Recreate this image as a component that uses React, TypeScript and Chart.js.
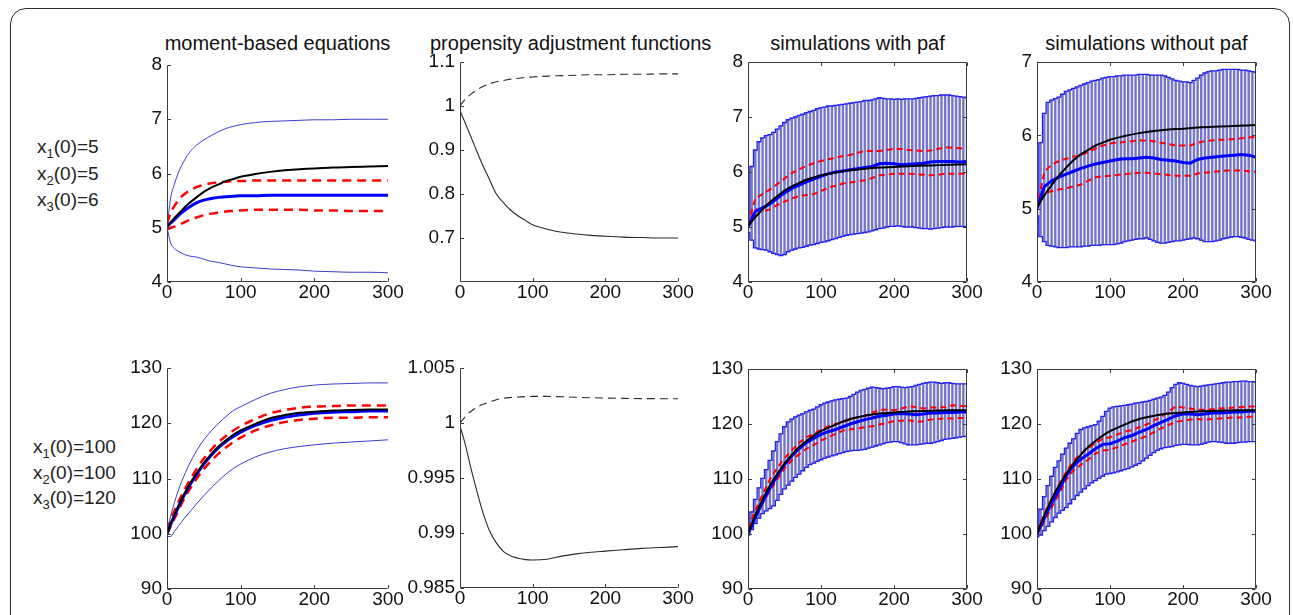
import React, { useEffect, useRef } from 'react';
import { Chart, registerables } from 'chart.js';

Chart.register(...registerables);

// ---------------- data ----------------
const X_TICKS = [0, 100, 200, 300];
const TITLES = ['moment-based equations', 'propensity adjustment functions', 'simulations with paf', 'simulations without paf'];
const ROW1_LABELS = [['1', '5'], ['2', '5'], ['3', '6']];
const ROW2_LABELS = [['1', '100'], ['2', '100'], ['3', '120']];

const Y_TICKS_R1_MOM = [4, 5, 6, 7, 8];
const Y_TICKS_R1_PAF = [0.7, 0.8, 0.9, 1, 1.1];
const Y_TICKS_R1_SIM = [4, 5, 6, 7, 8];
const Y_TICKS_R1_NOPAF = [4, 5, 6, 7];
const Y_TICKS_R2 = [90, 100, 110, 120, 130];
const Y_TICKS_R2_PAF = [0.985, 0.99, 0.995, 1, 1.005];

const T_ODE = [0, 5, 10, 15, 20, 30, 40, 50, 60, 70, 80, 90, 100, 120, 140, 160, 180, 200, 225, 250, 275, 300];

// row 1, moment-based equations
const R1_MOM_BLACK = [5.02, 5.1, 5.18, 5.25, 5.32, 5.45, 5.56, 5.66, 5.74, 5.8, 5.86, 5.9, 5.94, 5.99, 6.03, 6.06, 6.08, 6.09, 6.11, 6.12, 6.13, 6.14];
const R1_MOM_BLUE_MEAN = [5.02, 5.09, 5.15, 5.22, 5.28, 5.38, 5.46, 5.51, 5.54, 5.56, 5.57, 5.58, 5.59, 5.59, 5.6, 5.6, 5.6, 5.6, 5.6, 5.6, 5.6, 5.6];
const R1_MOM_BLUE_UP = [5.0, 5.55, 5.8, 6.0, 6.15, 6.38, 6.52, 6.62, 6.7, 6.77, 6.83, 6.87, 6.9, 6.94, 6.96, 6.97, 6.98, 6.99, 6.99, 7.0, 7.0, 7.0];
const R1_MOM_BLUE_LO = [5.0, 4.72, 4.62, 4.57, 4.53, 4.48, 4.46, 4.42, 4.38, 4.36, 4.33, 4.3, 4.28, 4.26, 4.24, 4.23, 4.22, 4.2, 4.19, 4.18, 4.18, 4.17];
const R1_MOM_RED_UP = [5.08, 5.28, 5.4, 5.5, 5.58, 5.68, 5.75, 5.79, 5.82, 5.84, 5.85, 5.86, 5.86, 5.87, 5.87, 5.87, 5.87, 5.87, 5.87, 5.87, 5.87, 5.87];
const R1_MOM_RED_LO = [4.97, 5.0, 5.02, 5.05, 5.08, 5.14, 5.19, 5.23, 5.26, 5.28, 5.3, 5.31, 5.32, 5.33, 5.33, 5.33, 5.33, 5.32, 5.32, 5.31, 5.31, 5.31];

// row 1, propensity adjustment functions
const R1_PAF_DASHED = [1.0, 1.011, 1.02, 1.027, 1.033, 1.043, 1.05, 1.055, 1.058, 1.061, 1.063, 1.065, 1.066, 1.068, 1.069, 1.07, 1.071, 1.071, 1.072, 1.072, 1.073, 1.073];
const R1_PAF_SOLID = [0.99, 0.97, 0.95, 0.93, 0.91, 0.87, 0.835, 0.8, 0.78, 0.763, 0.75, 0.74, 0.73, 0.72, 0.713, 0.709, 0.706, 0.704, 0.702, 0.701, 0.7, 0.7];

// row 2, moment-based equations
const R2_MOM_BLACK = [100.0, 101.8, 103.4, 104.9, 106.3, 108.8, 110.9, 112.8, 114.4, 115.8, 116.9, 117.9, 118.7, 119.9, 120.9, 121.5, 121.9, 122.1, 122.3, 122.4, 122.5, 122.5];
const R2_MOM_BLUE_MEAN = [100.0, 101.7, 103.2, 104.7, 106.1, 108.6, 110.7, 112.6, 114.2, 115.6, 116.7, 117.6, 118.4, 119.6, 120.5, 121.1, 121.5, 121.8, 122.0, 122.1, 122.2, 122.2];
const R2_MOM_BLUE_UP = [100.5, 103.2, 105.6, 107.7, 109.5, 112.5, 115.0, 117.0, 118.6, 120.0, 121.2, 122.3, 123.0, 124.3, 125.4, 126.1, 126.6, 126.9, 127.1, 127.2, 127.3, 127.3];
const R2_MOM_BLUE_LO = [99.5, 99.5, 100.4, 101.3, 102.2, 103.8, 105.4, 106.9, 108.3, 109.6, 110.8, 111.8, 112.6, 113.9, 114.8, 115.4, 115.8, 116.1, 116.4, 116.6, 116.8, 117.0];
const R2_MOM_RED_UP = [100.6, 102.4, 104.1, 105.6, 107.0, 109.5, 111.7, 113.6, 115.2, 116.6, 117.7, 118.7, 119.5, 120.8, 121.8, 122.4, 122.8, 123.0, 123.1, 123.2, 123.2, 123.2];
const R2_MOM_RED_LO = [99.9, 101.3, 102.7, 104.1, 105.5, 107.9, 109.9, 111.7, 113.2, 114.5, 115.6, 116.6, 117.4, 118.7, 119.6, 120.2, 120.6, 120.8, 121.0, 121.0, 121.1, 121.1];

// row 2, propensity adjustment functions
const R2_PAF_DASHED = [1.0, 1.0004, 1.0008, 1.00105, 1.0013, 1.00165, 1.0019, 1.00212, 1.00225, 1.00232, 1.00237, 1.0024, 1.00242, 1.00242, 1.00238, 1.00234, 1.0023, 1.00227, 1.00224, 1.00222, 1.00221, 1.0022];
const R2_PAF_SOLID = [0.9997, 0.9986, 0.9973, 0.9959, 0.9946, 0.9922, 0.9903, 0.9891, 0.9883, 0.9879, 0.9877, 0.98758, 0.98755, 0.98762, 0.9879, 0.9881, 0.98825, 0.98835, 0.98848, 0.9886, 0.98868, 0.98876];

// simulation time points
const T_SIM = [
  0, 5, 10, 15, 20, 25, 30, 35, 40, 45,
  50, 55, 60, 65, 70, 75, 80, 85, 90, 95,
  100, 105, 110, 115, 120, 125, 130, 135, 140, 145,
  150, 155, 160, 165, 170, 175, 180, 185, 190, 195,
  200, 205, 210, 215, 220, 225, 230, 235, 240, 245,
  250, 255, 260, 265, 270, 275, 280, 285, 290, 295,
  300,
];
const T_LINE = [0, 10, 20, 30, 40, 50, 60, 70, 80, 90, 100, 110, 120, 130, 140, 150, 160, 170, 180, 190, 200, 210, 220, 230, 240, 250, 260, 270, 280, 290, 300];

// row 1, simulations with paf
const R1_SIM_HI = [
  5.1, 6.1, 6.4, 6.55, 6.62, 6.66, 6.68, 6.72, 6.78, 6.84,
  6.9, 6.95, 6.98, 7.0, 7.03, 7.05, 7.08, 7.1, 7.12, 7.15,
  7.17, 7.18, 7.2, 7.2, 7.21, 7.22, 7.23, 7.24, 7.25, 7.26,
  7.27, 7.28, 7.3, 7.3, 7.31, 7.33, 7.35, 7.34, 7.33, 7.33,
  7.32, 7.33, 7.32, 7.33, 7.33, 7.33, 7.34, 7.35, 7.36, 7.37,
  7.38, 7.39, 7.39, 7.4, 7.4, 7.4, 7.39, 7.38, 7.37, 7.36,
  7.35,
];
const R1_SIM_LO = [
  4.9, 4.76, 4.62, 4.6, 4.59, 4.58, 4.55, 4.52, 4.5, 4.48,
  4.5, 4.55, 4.58, 4.6, 4.62, 4.63, 4.65, 4.67, 4.68, 4.7,
  4.72, 4.73, 4.75, 4.77, 4.79, 4.81, 4.83, 4.85, 4.86, 4.87,
  4.88, 4.89, 4.9, 4.91, 4.93, 4.95, 4.97, 4.98, 5.0, 5.01,
  5.01, 5.02, 5.01, 5.0, 5.0, 5.0, 4.99, 4.98, 4.97, 4.97,
  4.96, 4.97, 4.98, 4.99, 5.0, 5.0, 5.0, 5.01, 5.01, 5.01,
  5.01,
];
const R1_SIM_MEAN = [5.0, 5.28, 5.35, 5.42, 5.52, 5.62, 5.7, 5.76, 5.82, 5.87, 5.92, 5.97, 6.0, 6.02, 6.04, 6.06, 6.08, 6.1, 6.15, 6.16, 6.15, 6.13, 6.14, 6.15, 6.16, 6.18, 6.19, 6.19, 6.19, 6.18, 6.19];
const R1_SIM_RED_UP = [5.05, 5.52, 5.6, 5.68, 5.78, 5.88, 5.98, 6.05, 6.11, 6.16, 6.2, 6.23, 6.26, 6.29, 6.31, 6.35, 6.38, 6.38, 6.38, 6.4, 6.42, 6.42, 6.4, 6.39, 6.38, 6.39, 6.42, 6.45, 6.44, 6.43, 6.42];
const R1_SIM_RED_LO = [5.0, 5.33, 5.28, 5.32, 5.4, 5.46, 5.52, 5.56, 5.58, 5.6, 5.65, 5.72, 5.75, 5.79, 5.81, 5.83, 5.85, 5.89, 5.94, 5.95, 5.97, 5.97, 5.97, 5.96, 5.95, 5.94, 5.95, 5.97, 5.97, 5.97, 5.97];

// row 1, simulations without paf
const R1_NOPAF_HI = [
  5.1, 5.9, 6.3, 6.45, 6.48, 6.5, 6.52, 6.56, 6.6, 6.62,
  6.64, 6.66, 6.68, 6.7, 6.72, 6.74, 6.75, 6.76, 6.78, 6.79,
  6.8, 6.8, 6.81, 6.81, 6.82, 6.82, 6.82, 6.82, 6.83, 6.83,
  6.83, 6.82, 6.82, 6.82, 6.82, 6.81, 6.79, 6.77, 6.75, 6.74,
  6.73, 6.73, 6.72, 6.75, 6.78, 6.82, 6.85, 6.87, 6.88, 6.88,
  6.89, 6.9, 6.9, 6.9, 6.9, 6.9, 6.89, 6.89, 6.88, 6.87,
  6.86,
];
const R1_NOPAF_LO = [
  4.9, 4.62, 4.55, 4.5, 4.49, 4.48, 4.47, 4.47, 4.47, 4.48,
  4.48, 4.48, 4.48, 4.49, 4.49, 4.5, 4.5, 4.5, 4.51, 4.51,
  4.51, 4.51, 4.52, 4.53, 4.55, 4.56, 4.57, 4.58, 4.59, 4.59,
  4.6, 4.58, 4.56, 4.54, 4.53, 4.53, 4.54, 4.55, 4.56, 4.56,
  4.57, 4.58, 4.59, 4.6, 4.59, 4.57, 4.55, 4.55, 4.55, 4.56,
  4.57, 4.59, 4.6, 4.61, 4.62, 4.62, 4.61, 4.6, 4.58, 4.57,
  4.56,
];
const R1_NOPAF_MEAN = [5.0, 5.3, 5.38, 5.43, 5.47, 5.51, 5.55, 5.58, 5.61, 5.63, 5.65, 5.67, 5.68, 5.68, 5.69, 5.7, 5.69, 5.67, 5.66, 5.65, 5.63, 5.62, 5.67, 5.69, 5.7, 5.71, 5.72, 5.73, 5.74, 5.73, 5.7];
const R1_NOPAF_RED_UP = [5.0, 5.5, 5.6, 5.65, 5.68, 5.71, 5.73, 5.77, 5.82, 5.86, 5.89, 5.9, 5.91, 5.92, 5.93, 5.93, 5.92, 5.9, 5.88, 5.86, 5.86, 5.86, 5.9, 5.92, 5.93, 5.94, 5.94, 5.95, 5.96, 5.97, 5.98];
const R1_NOPAF_RED_LO = [5.0, 5.2, 5.24, 5.26, 5.28, 5.3, 5.33, 5.38, 5.43, 5.44, 5.45, 5.46, 5.47, 5.48, 5.49, 5.49, 5.48, 5.47, 5.46, 5.45, 5.45, 5.45, 5.48, 5.49, 5.5, 5.51, 5.52, 5.52, 5.52, 5.51, 5.5];

// row 2, simulations with paf
const R2_SIM_HI = [
  101, 104, 106.3, 108.4, 110.1, 111.7, 113.4, 115.1, 116.8, 118.2,
  119.5, 120.4, 120.9, 121.3, 121.6, 121.9, 122.2, 122.5, 122.7, 123.1,
  123.5, 123.8, 124.0, 124.2, 124.4, 124.5, 124.6, 124.7, 125.0, 125.4,
  125.8, 126.1, 126.3, 126.5, 126.7, 126.6, 126.5, 126.4, 126.5, 126.6,
  126.8, 126.8, 126.7, 126.6, 126.7, 126.8, 127.0, 127.2, 127.4, 127.5,
  127.6, 127.6, 127.5, 127.4, 127.5, 127.5, 127.4, 127.3, 127.3, 127.3,
  127.3,
];
const R2_SIM_LO = [
  99.8, 100.8, 101.9, 102.9, 103.7, 104.2, 104.6, 105.1, 106.1, 107.2,
  108.2, 108.9, 109.6, 110.3, 110.9, 111.5, 112.1, 112.6, 112.9, 113.2,
  113.5, 113.8, 114.0, 114.2, 114.4, 114.6, 114.8, 115.0, 115.1, 115.2,
  115.2, 115.3, 115.4, 115.6, 115.8, 116.0, 116.2, 116.4, 116.6, 116.7,
  116.8, 116.8, 116.6, 116.4, 116.2, 116.2, 116.2, 116.3, 116.4, 116.5,
  116.5, 116.6, 116.8, 117.0, 117.2, 117.3, 117.4, 117.5, 117.6, 117.7,
  117.8,
];
const R2_SIM_MEAN = [100.0, 103.0, 105.8, 108.3, 110.6, 112.6, 114.2, 115.5, 116.6, 117.4, 118.1, 118.6, 119.0, 119.5, 120.0, 120.4, 120.8, 121.1, 121.4, 121.6, 121.8, 121.9, 121.8, 121.7, 121.8, 122.0, 122.0, 122.1, 122.1, 122.2, 122.2];
const R2_SIM_RED_UP = [101.0, 104.2, 107.2, 109.9, 112.0, 113.8, 115.2, 116.6, 117.6, 118.2, 119.0, 119.6, 120.0, 120.4, 120.8, 121.2, 121.5, 122.0, 122.6, 122.6, 122.5, 122.8, 123.2, 123.1, 122.8, 123.0, 123.0, 123.1, 123.4, 123.3, 123.2];
const R2_SIM_RED_LO = [100.3, 103.0, 105.6, 107.9, 109.9, 111.9, 113.4, 114.5, 115.5, 116.2, 117.0, 117.6, 118.2, 118.8, 119.0, 119.2, 119.4, 119.6, 119.9, 120.2, 120.5, 120.6, 120.7, 120.4, 120.5, 120.8, 120.9, 121.0, 121.0, 121.1, 121.1];

// row 2, simulations without paf
const R2_NOPAF_HI = [
  101.5, 104.5, 106.8, 108.8, 110.5, 112.1, 113.3, 114.5, 115.6, 116.5,
  117.3, 118.3, 119.0, 119.3, 119.5, 119.7, 119.9, 120.5, 121.4, 122.3,
  122.9, 123.1, 123.2, 123.3, 123.4, 123.5, 123.6, 123.8, 123.9, 124.0,
  124.1, 124.3, 124.5, 124.7, 124.9, 125.2, 125.8, 126.6, 127.2, 127.5,
  127.4, 127.2, 127.0, 126.9, 126.8, 126.9, 127.0, 127.1, 127.2, 127.3,
  127.4, 127.5, 127.6, 127.6, 127.7, 127.7, 127.8, 127.8, 127.7, 127.7,
  127.6,
];
const R2_NOPAF_LO = [
  99.5, 99.8, 100.6, 101.4, 102.2, 103.0, 103.8, 104.3, 104.8, 105.5,
  106.3, 107.0, 107.6, 108.2, 108.8, 109.3, 109.7, 110.1, 110.5, 110.9,
  111.0, 111.1, 111.3, 111.5, 111.7, 111.9, 112.2, 112.5, 112.8, 113.3,
  113.8, 114.3, 114.8, 115.2, 115.5, 115.7, 115.8, 115.9, 116.1, 116.2,
  116.3, 116.3, 116.2, 116.2, 116.2, 116.3, 116.5, 116.7, 116.8, 116.8,
  116.7, 116.6, 116.5, 116.5, 116.5, 116.6, 116.7, 116.7, 116.8, 116.8,
  116.8,
];
const R2_NOPAF_MEAN = [100.0, 102.9, 105.6, 108.0, 110.6, 112.4, 113.6, 114.5, 115.5, 116.3, 116.4, 116.9, 117.5, 117.9, 118.5, 119.0, 119.7, 120.3, 120.9, 121.5, 121.8, 121.8, 121.7, 121.8, 122.0, 122.0, 122.1, 122.2, 122.2, 122.3, 122.3];
const R2_NOPAF_RED_UP = [100.5, 103.6, 106.4, 108.9, 111.3, 113.3, 114.6, 115.6, 116.5, 117.3, 117.6, 118.1, 118.6, 118.9, 119.4, 119.9, 120.6, 121.3, 122.2, 123.2, 123.0, 122.8, 122.6, 122.6, 122.7, 122.8, 122.9, 123.0, 123.1, 123.2, 123.2];
const R2_NOPAF_RED_LO = [99.8, 102.3, 104.8, 107.2, 109.9, 111.5, 112.6, 113.5, 114.6, 115.2, 115.3, 115.8, 116.3, 116.8, 117.3, 117.8, 118.5, 119.2, 119.8, 120.4, 120.6, 120.8, 120.9, 120.8, 120.9, 121.0, 121.1, 121.2, 121.2, 121.3, 121.3];

// ---------------- styling / layout ----------------
const FONT = '"Liberation Sans", Arial, Helvetica, sans-serif';
const PAD_L = 70;
const Y_W = 60;
const PAD_R = 25;
const PAD_T = 15;
const PAD_B = 30;
const X_H = 25;

const C_BLACK = '#000000';
const C_BLUE = '#0000ff';
const C_BLUE_THIN = '#3c3cd0';
const C_RED = '#ff0000';
const C_BAR = 'rgba(88,88,190,0.82)';
const C_CAP = '#2222f0';
const C_PAF = '#2a2a2a';

function line(xs: number[], ys: number[], color: string, width: number, order: number, dash: number[] = [], smooth = true, stepped: any = false) {
  return {
    type: 'line',
    data: xs.map((x, i) => ({ x, y: ys[i] })),
    borderColor: color,
    backgroundColor: color,
    borderWidth: width,
    borderDash: dash,
    pointRadius: 0,
    fill: false,
    stepped,
    tension: smooth ? 0.4 : 0,
    cubicInterpolationMode: smooth ? 'monotone' : 'default',
    order,
  };
}

function bars(xs: number[], lo: number[], hi: number[]) {
  return {
    type: 'bar',
    data: xs.map((x, i) => ({ x, y: [lo[i], hi[i]] })),
    backgroundColor: C_BAR,
    borderWidth: 0,
    barThickness: 1.8,
    grouped: false,
    order: 20,
  };
}

function simSets(hi: number[], lo: number[], mean: number[], redUp: number[], redLo: number[], black: number[]) {
  return [
    line(T_ODE, black, C_BLACK, 2, 1),
    line(T_LINE, mean, C_BLUE, 3, 2, [], false),
    line(T_LINE, redUp, C_RED, 2, 3, [6, 4], false),
    line(T_LINE, redLo, C_RED, 2, 3, [6, 4], false),
    line(T_SIM, hi, C_CAP, 1.3, 10, [], false, 'middle'),
    line(T_SIM, lo, C_CAP, 1.3, 10, [], false, 'middle'),
    bars(T_SIM, lo, hi),
  ];
}

function momSets(black: number[], blueMean: number[], blueUp: number[], blueLo: number[], redUp: number[], redLo: number[]) {
  return [
    line(T_ODE, black, C_BLACK, 2, 1),
    line(T_ODE, blueMean, C_BLUE, 3, 2),
    line(T_ODE, redUp, C_RED, 2.5, 3, [9, 6]),
    line(T_ODE, redLo, C_RED, 2.5, 3, [9, 6]),
    line(T_ODE, blueUp, C_BLUE_THIN, 1, 5),
    line(T_ODE, blueLo, C_BLUE_THIN, 1, 5),
  ];
}

function pafSets(dashed: number[], solid: number[]) {
  return [
    line(T_ODE, dashed, C_PAF, 1.1, 1, [8, 5]),
    line(T_ODE, solid, C_PAF, 1.1, 1),
  ];
}

type Spec = {
  L: number; R: number; T: number; B: number;
  yMin: number; yMax: number; yTicks: number[]; box: boolean; datasets: any[];
};

const COLS = [[167, 388], [460, 678], [748, 967], [1037, 1256]];

const PANELS: Spec[] = [
  { L: COLS[0][0], R: COLS[0][1], T: 65, B: 282, yMin: 4, yMax: 8, yTicks: Y_TICKS_R1_MOM, box: false,
    datasets: momSets(R1_MOM_BLACK, R1_MOM_BLUE_MEAN, R1_MOM_BLUE_UP, R1_MOM_BLUE_LO, R1_MOM_RED_UP, R1_MOM_RED_LO) },
  { L: COLS[1][0], R: COLS[1][1], T: 62, B: 282, yMin: 0.6, yMax: 1.1, yTicks: Y_TICKS_R1_PAF, box: false,
    datasets: pafSets(R1_PAF_DASHED, R1_PAF_SOLID) },
  { L: COLS[2][0], R: COLS[2][1], T: 62, B: 282, yMin: 4, yMax: 8, yTicks: Y_TICKS_R1_SIM, box: true,
    datasets: simSets(R1_SIM_HI, R1_SIM_LO, R1_SIM_MEAN, R1_SIM_RED_UP, R1_SIM_RED_LO, R1_MOM_BLACK) },
  { L: COLS[3][0], R: COLS[3][1], T: 62, B: 282, yMin: 4, yMax: 7, yTicks: Y_TICKS_R1_NOPAF, box: true,
    datasets: simSets(R1_NOPAF_HI, R1_NOPAF_LO, R1_NOPAF_MEAN, R1_NOPAF_RED_UP, R1_NOPAF_RED_LO, R1_MOM_BLACK) },
  { L: COLS[0][0], R: COLS[0][1], T: 368, B: 589, yMin: 90, yMax: 130, yTicks: Y_TICKS_R2, box: false,
    datasets: momSets(R2_MOM_BLACK, R2_MOM_BLUE_MEAN, R2_MOM_BLUE_UP, R2_MOM_BLUE_LO, R2_MOM_RED_UP, R2_MOM_RED_LO) },
  { L: COLS[1][0], R: COLS[1][1], T: 368, B: 588, yMin: 0.985, yMax: 1.005, yTicks: Y_TICKS_R2_PAF, box: false,
    datasets: pafSets(R2_PAF_DASHED, R2_PAF_SOLID) },
  { L: COLS[2][0], R: COLS[2][1], T: 369, B: 589, yMin: 90, yMax: 130, yTicks: Y_TICKS_R2, box: true,
    datasets: simSets(R2_SIM_HI, R2_SIM_LO, R2_SIM_MEAN, R2_SIM_RED_UP, R2_SIM_RED_LO, R2_MOM_BLACK) },
  { L: COLS[3][0], R: COLS[3][1], T: 369, B: 589, yMin: 90, yMax: 130, yTicks: Y_TICKS_R2, box: true,
    datasets: simSets(R2_NOPAF_HI, R2_NOPAF_LO, R2_NOPAF_MEAN, R2_NOPAF_RED_UP, R2_NOPAF_RED_LO, R2_MOM_BLACK) },
];

const fmt = (v: number) => String(Number(Number(v).toPrecision(6)));

function axesPlugin(box: boolean) {
  return {
    id: 'matlabAxes',
    afterDatasetsDraw(chart: any) {
      const { ctx, chartArea: a, scales } = chart;
      const xs = scales.x;
      const ys = scales.y;
      const L = Math.round(a.left) + 0.5;
      const R = Math.round(a.right) - 0.5;
      const T = Math.round(a.top) + 0.5;
      const B = Math.round(a.bottom) - 0.5;
      const tl = 3.5;
      ctx.save();
      ctx.strokeStyle = '#3c3c3c';
      ctx.lineWidth = 1;
      ctx.setLineDash([]);
      ctx.beginPath();
      ctx.moveTo(L, T);
      ctx.lineTo(L, B);
      ctx.lineTo(R, B);
      if (box) {
        ctx.lineTo(R, T);
        ctx.lineTo(L, T);
      }
      for (const t of ys.ticks) {
        const y = Math.round(ys.getPixelForValue(t.value)) + 0.5;
        ctx.moveTo(L, y);
        ctx.lineTo(L + tl, y);
        if (box) {
          ctx.moveTo(R, y);
          ctx.lineTo(R - tl, y);
        }
      }
      for (const t of xs.ticks) {
        const x = Math.round(xs.getPixelForValue(t.value)) + 0.5;
        ctx.moveTo(x, B);
        ctx.lineTo(x, B - tl);
        if (box) {
          ctx.moveTo(x, T);
          ctx.lineTo(x, T + tl);
        }
      }
      ctx.stroke();
      ctx.restore();
    },
  };
}

function Panel({ spec }: { spec: Spec }) {
  const ref = useRef<HTMLCanvasElement>(null);
  const W = spec.R - spec.L + PAD_L + PAD_R;
  const H = spec.B - spec.T + PAD_T + PAD_B;
  useEffect(() => {
    if (!ref.current) return;
    const tickFont = { family: FONT, size: 19, lineHeight: 1 };
    const zeroPad = (s: any) => {
      s.paddingLeft = 0;
      s.paddingRight = 0;
      s.paddingTop = 0;
      s.paddingBottom = 0;
    };
    const chart = new Chart(ref.current, {
      type: 'line',
      data: { datasets: spec.datasets as any },
      options: {
        animation: false,
        responsive: false,
        maintainAspectRatio: false,
        devicePixelRatio: 1,
        layout: { padding: { left: PAD_L - Y_W, right: PAD_R, top: PAD_T, bottom: PAD_B - X_H } },
        plugins: {
          legend: { display: false },
          tooltip: { enabled: false },
          title: { display: false },
        },
        scales: {
          x: {
            type: 'linear',
            min: 0,
            max: 300,
            offset: false,
            grid: { display: false, drawTicks: false },
            border: { display: false },
            afterBuildTicks: (s: any) => {
              s.ticks = X_TICKS.map((v) => ({ value: v }));
            },
            ticks: {
              font: tickFont,
              color: '#111',
              padding: 1,
              maxRotation: 0,
              autoSkip: false,
              callback: (v: any) => fmt(v),
            },
            afterFit: (s: any) => {
              s.height = X_H;
              zeroPad(s);
            },
          },
          y: {
            type: 'linear',
            min: spec.yMin,
            max: spec.yMax,
            grid: { display: false, drawTicks: false },
            border: { display: false },
            afterBuildTicks: (s: any) => {
              s.ticks = spec.yTicks.map((v) => ({ value: v }));
            },
            ticks: {
              font: tickFont,
              color: '#111',
              padding: 5,
              autoSkip: false,
              callback: (v: any) => fmt(v),
            },
            afterFit: (s: any) => {
              s.width = Y_W;
              zeroPad(s);
            },
          },
        },
      } as any,
      plugins: [axesPlugin(spec.box)],
    });
    return () => chart.destroy();
  }, []);
  return (
    <canvas
      ref={ref}
      width={W}
      height={H}
      style={{ position: 'absolute', left: spec.L - PAD_L, top: spec.T - PAD_T, width: W, height: H }}
    />
  );
}

function RowLabel({ left, top, sub, val }: { left: number; top: number; sub: string; val: string }) {
  return (
    <div style={{ position: 'absolute', left, top, fontSize: 19, lineHeight: '19px', whiteSpace: 'nowrap', color: '#222' }}>
      x<span style={{ fontSize: 13, position: 'relative', top: 5 }}>{sub}</span>(0)={val}
    </div>
  );
}

export default function App() {
  return (
    <div
      style={{
        position: 'absolute',
        left: 0,
        top: 0,
        width: 1293,
        height: 615,
        overflow: 'hidden',
        background: '#ffffff',
        fontFamily: FONT,
      }}
    >
      <div
        style={{
          position: 'absolute',
          left: 10,
          top: 8,
          width: 1280,
          height: 640,
          border: '1.5px solid #2e2e2e',
          borderRadius: 16,
          boxSizing: 'border-box',
        }}
      />
      {TITLES.map((t, i) => (
        <div
          key={t}
          style={{
            position: 'absolute',
            left: COLS[i][0] - 30,
            width: COLS[i][1] - COLS[i][0] + 60,
            top: 34,
            textAlign: 'center',
            fontSize: 20,
            lineHeight: '19px',
            whiteSpace: 'nowrap',
            color: '#111',
          }}
        >
          {t}
        </div>
      ))}
      {ROW1_LABELS.map(([s, v], i) => (
        <RowLabel key={'a' + i} left={37} top={137 + i * 26.5} sub={s} val={v} />
      ))}
      {ROW2_LABELS.map(([s, v], i) => (
        <RowLabel key={'b' + i} left={33} top={437 + i * 25.5} sub={s} val={v} />
      ))}
      {PANELS.map((p, i) => (
        <Panel key={i} spec={p} />
      ))}
    </div>
  );
}
